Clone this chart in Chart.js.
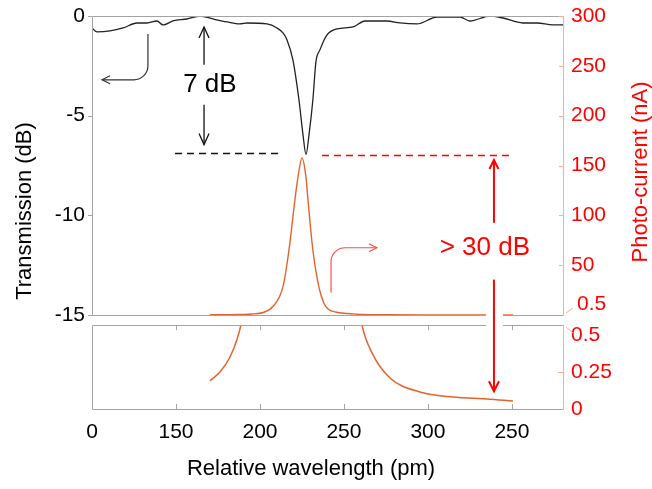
<!DOCTYPE html>
<html>
<head>
<meta charset="utf-8">
<script src="https://cdn.jsdelivr.net/npm/chart.js@4"></script>
<style>
  html, body { margin: 0; padding: 0; background: #fff; }
  #wrap { position: relative; width: 652px; height: 489px; }
  #wrap canvas { position: absolute; left: 0; top: 0; }
</style>
</head>
<body>
<div id="wrap">
  <canvas id="topChart" width="652" height="489"></canvas>
  <canvas id="lowChart" width="652" height="489"></canvas>
</div>
<script>
// transmission (dB) vs relative wavelength (pm)
const wlTrans = [100.0, 103.0, 110.7, 118.5, 126.8, 132.7, 138.7, 142.3, 148.2, 156.5, 164.3, 172.0, 180.4, 188.1, 192.3, 204.2, 210.1, 213.7, 216.1, 219.6, 223.2, 225.6, 227.4, 229.2, 231.5, 233.3, 235.7, 239.9, 245.8, 255.4, 262.5, 275.6, 283.3, 293.5, 305.4, 319.0, 325.0, 336.9, 344.6, 356.5, 364.9, 374.4, 380.4];
const transDb = [-0.60, -0.80, -0.75, -0.60, -0.35, -0.35, -0.25, -0.45, -0.25, -0.15, 0, -0.15, -0.30, -0.40, -0.35, -0.40, -0.60, -0.85, -1.20, -2.20, -4.20, -5.95, -6.95, -5.95, -4.20, -2.30, -1.70, -0.95, -0.65, -0.55, -0.25, -0.25, -0.35, -0.40, -0.05, -0.05, -0.25, 0, -0.10, -0.35, -0.35, -0.45, -0.45];

// photo-current (nA)
const wlCurrent = [170.2, 176.2, 182.1, 186.3, 188.7, 195.0, 201.8, 207.7, 213.7, 217.3, 220.8, 222.6, 225.0, 227.4, 228.6, 231.5, 235.1, 238.0, 240.5, 245.0, 251.8, 257.7, 260.7, 266.7, 277.4, 295.2, 314.9, 335.1, 350.6];
const currentNa = [0.19, 0.25, 0.35, 0.47, 0.57, 1.0, 2.5, 8.5, 28.5, 65.5, 115.5, 138, 157.5, 138, 115, 65, 28, 12, 6, 3, 1.5, 0.8, 0.57, 0.38, 0.21, 0.115, 0.081, 0.068, 0.054];

// axis ticks
const xTickValues = [100, 150, 200, 250, 300, 350];
const xTickLabels = ['0', '150', '200', '250', '300', '250'];
const dbTicks = [-15, -10, -5, 0];
const naTicks = [50, 100, 150, 200, 250, 300];
const lowTicks = [0, 0.25, 0.5];

const GRAY = '#a3a3a3';
const SALMON = '#f6b09a';
const RED = '#ff0000';
const ORANGE = '#e4632b';
const FONT = 'Arial, "Liberation Sans", sans-serif';

const px = v => Math.round(v) + 0.5;

function seg(ctx, x1, y1, x2, y2) {
    ctx.beginPath();
    ctx.moveTo(x1, y1);
    ctx.lineTo(x2, y2);
    ctx.stroke();
}

function head(ctx, tx, ty, dx, dy, len, half) {
    const nx = -dy, ny = dx;
    ctx.beginPath();
    ctx.moveTo(tx - dx * len + nx * half, ty - dy * len + ny * half);
    ctx.lineTo(tx, ty);
    ctx.lineTo(tx - dx * len - nx * half, ty - dy * len - ny * half);
    ctx.stroke();
}

// keep the plot box fixed, labels may overhang it
function fixBox(width) {
    return s => {
        s.width = width;
        s.paddingTop = 0;
        s.paddingBottom = 0;
    };
}

function drawFrame(chart) {
    const { ctx, chartArea: a } = chart;
    ctx.save();
    ctx.lineWidth = 1;
    ctx.strokeStyle = GRAY;
    ctx.beginPath();
    ctx.moveTo(px(a.right), px(a.top));
    ctx.lineTo(px(a.left), px(a.top));
    ctx.lineTo(px(a.left), px(a.bottom));
    ctx.lineTo(px(a.right), px(a.bottom));
    ctx.stroke();
    ctx.strokeStyle = SALMON;
    seg(ctx, px(a.right), a.top, px(a.right), a.bottom + 0.5);
    ctx.restore();
}

const topFrame = {
    id: 'topFrame',
    afterDraw(chart) {
        const { ctx, chartArea: a, scales } = chart;
        drawFrame(chart);
        ctx.save();
        ctx.lineWidth = 1;
        ctx.strokeStyle = GRAY;
        dbTicks.forEach(v => {
            const y = px(scales.y.getPixelForValue(v));
            seg(ctx, a.left - 4, y, a.left, y);
        });
        ctx.strokeStyle = SALMON;
        naTicks.forEach(v => {
            const y = px(scales.y1.getPixelForValue(v));
            seg(ctx, a.right - 4, y, a.right, y);
        });
        seg(ctx, a.right + 3, a.bottom - 2, a.right + 10, a.bottom - 7);
        ctx.fillStyle = RED;
        ctx.font = '21px ' + FONT;
        ctx.textAlign = 'left';
        ctx.textBaseline = 'middle';
        ctx.fillText('0.5', a.right + 14, a.bottom - 11);
        ctx.restore();
    }
};

const lowFrame = {
    id: 'lowFrame',
    afterDraw(chart) {
        const { ctx, chartArea: a, scales } = chart;
        drawFrame(chart);
        ctx.save();
        ctx.lineWidth = 1;
        ctx.strokeStyle = GRAY;
        xTickValues.slice(1).forEach(v => {
            const x = px(scales.x.getPixelForValue(v));
            seg(ctx, x, a.bottom, x, a.bottom - 5);
            seg(ctx, x, a.top, x, a.top + 5);
        });
        ctx.strokeStyle = SALMON;
        const y25 = px(scales.y.getPixelForValue(0.25));
        seg(ctx, a.right - 5, y25, a.right, y25);
        seg(ctx, a.right + 3, a.top + 2, a.right + 10, a.top + 8);
        ctx.restore();
        drawNotes(chart);
    }
};

function drawNotes(low) {
    const ctx = low.ctx;
    const t = topChart.scales;
    const ta = topChart.chartArea, la = low.chartArea;
    const X = v => t.x.getPixelForValue(v);
    const Yd = v => t.y.getPixelForValue(v);
    const Yn = v => t.y1.getPixelForValue(v);
    ctx.save();

    // dashed reference levels
    ctx.lineWidth = 1.5;
    ctx.setLineDash([7, 5]);
    ctx.strokeStyle = '#111';
    seg(ctx, X(149.4), Yd(-6.9), X(212.5), Yd(-6.9));
    ctx.strokeStyle = RED;
    seg(ctx, X(236.9), Yn(160), X(350.6), Yn(160));
    ctx.setLineDash([]);

    // 7 dB arrows
    ctx.strokeStyle = '#111';
    ctx.lineWidth = 1.3;
    const bx = X(166.7);
    seg(ctx, bx, Yd(-0.55), bx, Yd(-2.45));
    head(ctx, bx, Yd(-0.55), 0, -1, 11, 5);
    seg(ctx, bx, Yd(-4.45), bx, Yd(-6.45));
    head(ctx, bx, Yd(-6.45), 0, 1, 11, 5);
    ctx.fillStyle = '#000';
    ctx.font = '26px ' + FONT;
    ctx.textAlign = 'center';
    ctx.textBaseline = 'middle';
    ctx.fillText('7 dB', X(170.2), Yd(-3.45));

    // curved arrow to left axis
    ctx.strokeStyle = '#333';
    ctx.lineWidth = 1.2;
    const cx = X(133.3), cy = Yd(-3.2);
    ctx.beginPath();
    ctx.moveTo(cx, Yd(-0.9));
    ctx.arcTo(cx, cy, cx - 15, cy, 14);
    ctx.lineTo(X(106), cy);
    ctx.stroke();
    head(ctx, X(106), cy, -1, 0, 8, 4);

    // curved arrow to right axis
    ctx.strokeStyle = '#ff4d4d';
    const rx = X(242.3), ry = Yn(67.5);
    ctx.beginPath();
    ctx.moveTo(rx, Yn(22.5));
    ctx.arcTo(rx, ry, rx + 15, ry, 14);
    ctx.lineTo(X(269.6), ry);
    ctx.stroke();
    head(ctx, X(269.6), ry, 1, 0, 8, 4);

    // > 30 dB arrows, crossing the axis break
    const ax = X(339.3);
    ctx.fillStyle = '#fff';
    ctx.fillRect(ax - 8, ta.bottom - 3, 17, la.top - ta.bottom + 6);
    ctx.strokeStyle = RED;
    ctx.lineWidth = 2;
    seg(ctx, ax, Yn(155.5), ax, Yn(92.5));
    head(ctx, ax, Yn(155.5), 0, -1, 9, 4.5);
    const tipY = low.scales.y.getPixelForValue(0.12);
    seg(ctx, ax, Yn(35.5), ax, tipY);
    head(ctx, ax, tipY, 0, 1, 10, 5);
    ctx.fillStyle = RED;
    ctx.font = '26px ' + FONT;
    ctx.fillText('> 30 dB', X(333.9), Yn(67.5));

    // axis titles
    ctx.font = '22px ' + FONT;
    ctx.fillStyle = '#000';
    ctx.fillText('Relative wavelength (pm)', 311, 469);
    ctx.translate(25, 211);
    ctx.rotate(-Math.PI / 2);
    ctx.fillText('Transmission (dB)', 0, 0);
    ctx.rotate(Math.PI / 2);
    ctx.translate(-25, -211);
    ctx.fillStyle = RED;
    ctx.translate(641, 172);
    ctx.rotate(-Math.PI / 2);
    ctx.fillText('Photo-current (nA)', 0, 0);
    ctx.restore();
}

const tickFont = { family: FONT, size: 21 };

const topChart = new Chart(document.getElementById('topChart'), {
    type: 'line',
    data: {
        datasets: [
            {
                data: wlTrans.map((x, i) => ({ x, y: transDb[i] })),
                yAxisID: 'y', borderColor: '#222', borderWidth: 1.3,
                pointRadius: 0, cubicInterpolationMode: 'monotone'
            },
            {
                data: wlCurrent.map((x, i) => ({ x, y: currentNa[i] })),
                yAxisID: 'y1', borderColor: ORANGE, borderWidth: 1.4,
                pointRadius: 0, cubicInterpolationMode: 'monotone'
            }
        ]
    },
    options: {
        responsive: false,
        animation: false,
        layout: { padding: { top: 16, bottom: 174, left: 0, right: 0 } },
        plugins: { legend: { display: false }, tooltip: { enabled: false } },
        scales: {
            x: { type: 'linear', min: 100, max: 380.4, display: false },
            y: {
                position: 'left', min: -15, max: 0,
                grid: { display: false, drawTicks: false }, border: { display: false },
                afterBuildTicks: s => { s.ticks = dbTicks.map(v => ({ value: v })); },
                ticks: { padding: 7, color: '#000', font: tickFont, callback: v => String(v) },
                afterFit: fixBox(92)
            },
            y1: {
                position: 'right', min: 0, max: 300,
                grid: { display: false, drawTicks: false }, border: { display: false },
                afterBuildTicks: s => { s.ticks = naTicks.map(v => ({ value: v })); },
                ticks: { padding: 8, color: RED, font: tickFont, callback: v => String(v) },
                afterFit: fixBox(89)
            }
        }
    },
    plugins: [topFrame]
});

const lowChart = new Chart(document.getElementById('lowChart'), {
    type: 'line',
    data: {
        datasets: [{
            data: wlCurrent.map((x, i) => ({ x, y: currentNa[i] })),
            borderColor: ORANGE, borderWidth: 1.5,
            pointRadius: 0, cubicInterpolationMode: 'monotone'
        }]
    },
    options: {
        responsive: false,
        animation: false,
        layout: { padding: { top: 325, left: 92, right: 0, bottom: 0 } },
        plugins: { legend: { display: false }, tooltip: { enabled: false } },
        scales: {
            x: {
                type: 'linear', min: 100, max: 380.4,
                grid: { display: false, drawTicks: false }, border: { display: false },
                afterBuildTicks: s => { s.ticks = xTickValues.map(v => ({ value: v })); },
                ticks: {
                    padding: 11, color: '#000', font: tickFont, maxRotation: 0, autoSkip: false,
                    callback: v => xTickLabels[xTickValues.indexOf(v)]
                },
                afterFit: s => { s.height = 80; }
            },
            y: {
                position: 'right', min: 0, max: 0.568,
                grid: { display: false, drawTicks: false }, border: { display: false },
                afterBuildTicks: s => { s.ticks = lowTicks.map(v => ({ value: v })); },
                ticks: { padding: 8, color: RED, font: tickFont, callback: v => String(v) },
                afterFit: fixBox(89)
            }
        }
    },
    plugins: [lowFrame]
});
</script>
</body>
</html>
